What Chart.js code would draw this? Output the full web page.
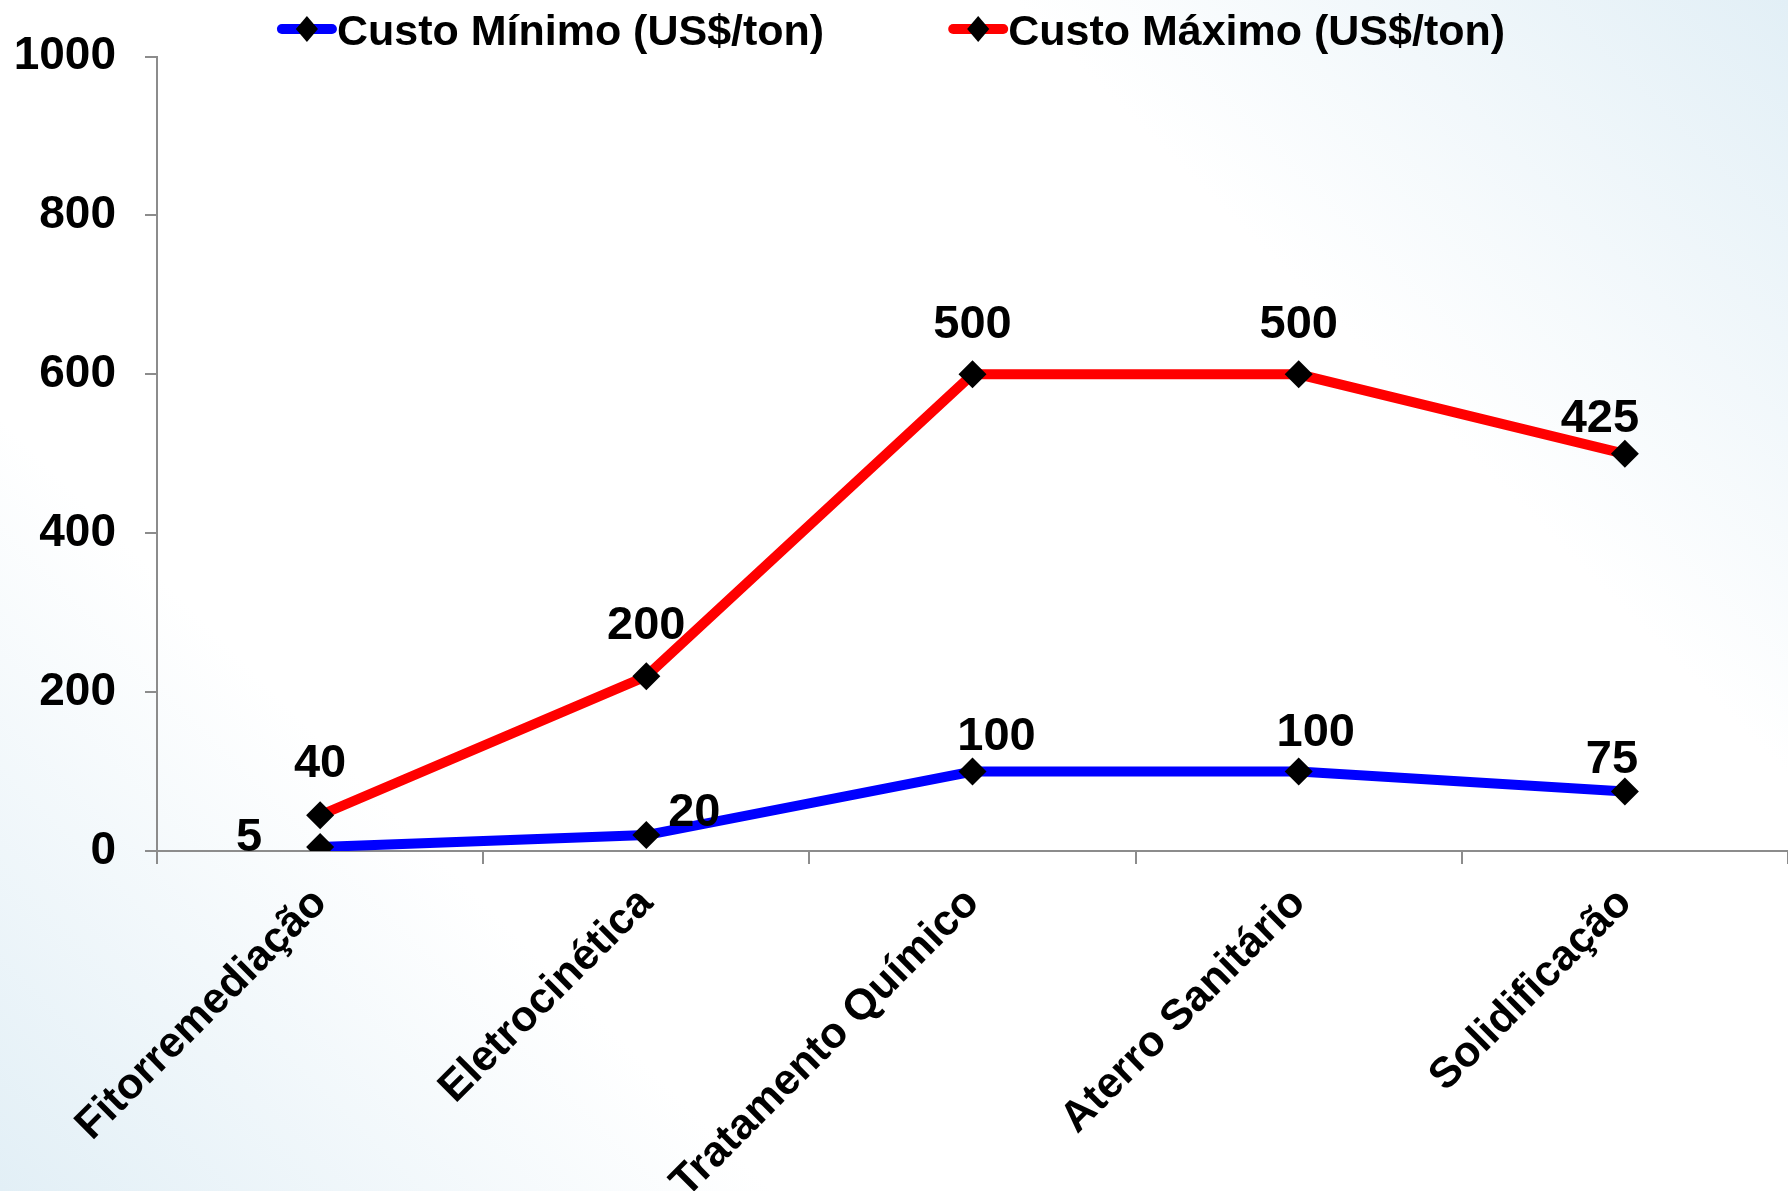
<!DOCTYPE html>
<html><head><meta charset="utf-8">
<script src="https://cdn.jsdelivr.net/npm/chart.js@4.4.1/dist/chart.umd.min.js"></script>
<style>
html,body{margin:0;padding:0;}
body{width:1788px;height:1191px;overflow:hidden;background:linear-gradient(45deg,#e2eff6 0%,#ffffff 26%,#ffffff 74%,#e2eff6 100%);}
#wrap{position:relative;width:1788px;height:1191px;}
</style></head><body>
<div id="wrap"><canvas id="c"></canvas></div>
<script>
const categories = ['Fitorremediação','Eletrocinética','Tratamento Químico','Aterro Sanitário','Solidificação'];
const seriesNames = ['Custo Mínimo (US$/ton)','Custo Máximo (US$/ton)'];
const custoMinimo = [5, 20, 100, 100, 75];
const custoMaximo = [45, 220, 600, 600, 500];
const rotulosMinimo = ['5', '20', '100', '100', '75'];
const rotulosMaximo = ['40', '200', '500', '500', '425'];
const yMin = 0, yMax = 1000, yStep = 200;

// label offsets relative to each point (px)
const offsetsMinimo = [[-71,-9],[48,-22],[24,-35],[17,-39],[-13,-31]];
const offsetsMaximo = [[0,-51],[0,-50],[0,-49],[0,-49],[-25,-35]];

const FONT = '"Liberation Sans", Arial, sans-serif';

const legendPlugin = {
  id: 'customLegend',
  afterDraw(chart) {
    const ctx = chart.ctx;
    ctx.save();
    ctx.font = 'bold 43px ' + FONT;
    const items = chart.data.datasets.map(ds => ({text: ds.label, color: ds.borderColor, w: ctx.measureText(ds.label).width}));
    const markW = 60, gap = 124;
    const total = items.reduce((s, it) => s + markW + it.w, 0) + gap * (items.length - 1);
    let x = chart.width / 2 - total / 2 - 3;
    const yLine = 29, yBase = 45;
    items.forEach(it => {
      ctx.strokeStyle = it.color; ctx.lineWidth = 10; ctx.lineCap = 'round';
      ctx.beginPath(); ctx.moveTo(x + 5, yLine); ctx.lineTo(x + markW - 5, yLine); ctx.stroke();
      const cx = x + markW / 2, r = 13;
      ctx.fillStyle = '#000';
      ctx.beginPath(); ctx.moveTo(cx, yLine - r); ctx.lineTo(cx + r * 0.85, yLine); ctx.lineTo(cx, yLine + r); ctx.lineTo(cx - r * 0.85, yLine); ctx.closePath(); ctx.fill();
      ctx.textAlign = 'left'; ctx.textBaseline = 'alphabetic';
      ctx.fillText(it.text, x + markW, yBase);
      x += markW + it.w + gap;
    });
    ctx.restore();
  }
};

const labelsPlugin = {
  id: 'pointLabels',
  afterDatasetsDraw(chart) {
    const ctx = chart.ctx;
    ctx.save();
    ctx.font = 'bold 47px ' + FONT;
    ctx.fillStyle = '#000';
    ctx.textAlign = 'center';
    ctx.textBaseline = 'middle';
    const sets = [[rotulosMinimo, offsetsMinimo], [rotulosMaximo, offsetsMaximo]];
    sets.forEach((s, di) => {
      const meta = chart.getDatasetMeta(di);
      meta.data.forEach((pt, i) => {
        ctx.fillText(s[0][i], pt.x + s[1][i][0], pt.y + s[1][i][1]);
      });
    });
    ctx.restore();
  }
};

new Chart(document.getElementById('c'), {
  type: 'line',
  data: {
    labels: categories,
    datasets: [
      {label: seriesNames[0], data: custoMinimo, borderColor: '#0000FF', borderWidth: 10,
       pointStyle: 'rectRot', pointRadius: 14, pointHoverRadius: 14, pointBackgroundColor: '#000', pointBorderColor: '#000', pointBorderWidth: 0, tension: 0},
      {label: seriesNames[1], data: custoMaximo, borderColor: '#FF0000', borderWidth: 10,
       pointStyle: 'rectRot', pointRadius: 14, pointHoverRadius: 14, pointBackgroundColor: '#000', pointBorderColor: '#000', pointBorderWidth: 0, tension: 0}
    ]
  },
  options: {
    responsive: true,
    maintainAspectRatio: false,
    animation: false,
    layout: {autoPadding: false, padding: {top: 56, right: -5, left: 0, bottom: 0}},
    plugins: {legend: {display: false}, tooltip: {enabled: false}},
    scales: {
      x: {
        offset: true,
        grid: {display: true, drawOnChartArea: false, offset: true, tickLength: 13, color: '#8c8c8c', lineWidth: 2},
        border: {display: true, color: '#8c8c8c', width: 2},
        ticks: {autoSkip: false, minRotation: 45, maxRotation: 45, padding: 14, color: '#000', font: {family: FONT, size: 43, weight: 'bold'}},
        afterFit(scale) { scale.height = 340; scale.paddingRight = 0; scale.paddingLeft = 0; }
      },
      y: {
        min: yMin, max: yMax,
        grid: {display: true, drawOnChartArea: false, tickLength: 12, color: '#8c8c8c', lineWidth: 2},
        border: {display: true, color: '#8c8c8c', width: 2},
        ticks: {stepSize: yStep, padding: 29, color: '#000', font: {family: FONT, size: 46, weight: 'bold'},
                callback: v => String(v)},
        afterFit(scale) { scale.width = 157; }
      }
    }
  },
  plugins: [labelsPlugin, legendPlugin]
});
</script>
</body></html>
